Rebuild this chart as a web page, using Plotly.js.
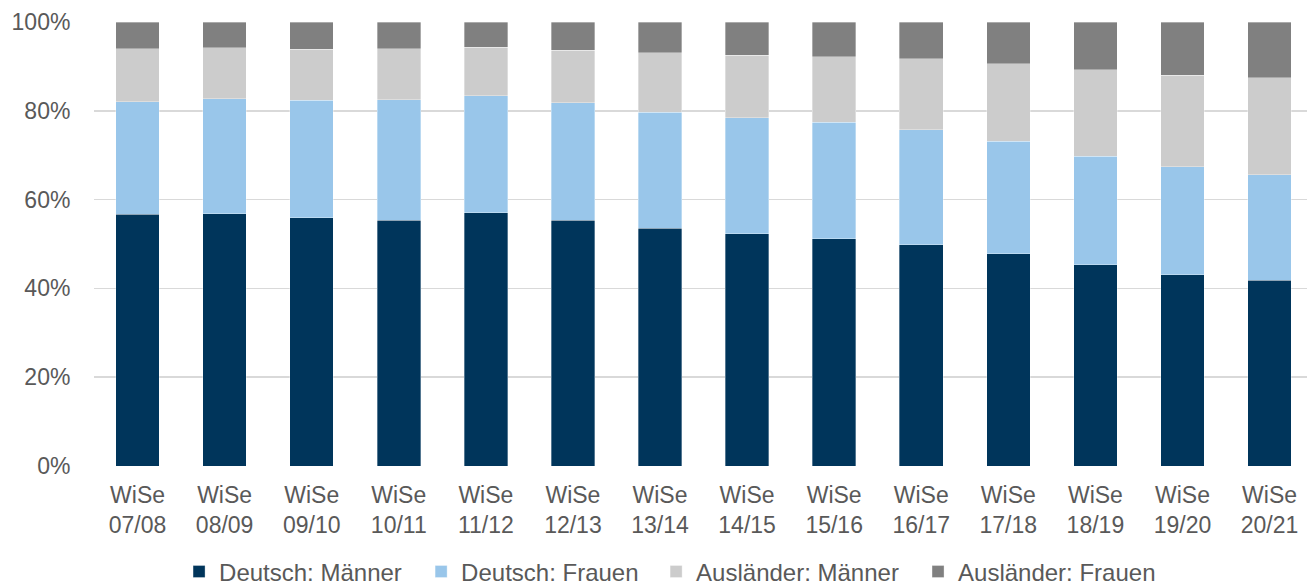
<!DOCTYPE html>
<html>
<head>
<meta charset="utf-8">
<script src="https://cdn.plot.ly/plotly-3.0.1.min.js"></script>
<style>
  html, body { margin: 0; padding: 0; background: #ffffff; }
  #chart { width: 1307px; height: 586px; }
</style>
</head>
<body>
<div id="chart"></div>
<script>
// Winter semesters
var semesters = ['WiSe<br>07/08', 'WiSe<br>08/09', 'WiSe<br>09/10', 'WiSe<br>10/11', 'WiSe<br>11/12',
                 'WiSe<br>12/13', 'WiSe<br>13/14', 'WiSe<br>14/15', 'WiSe<br>15/16', 'WiSe<br>16/17',
                 'WiSe<br>17/18', 'WiSe<br>18/19', 'WiSe<br>19/20', 'WiSe<br>20/21'];

// Shares of students in percent
var deutschMaenner    = [56.7, 56.8, 55.9, 55.4, 57.0, 55.3, 53.6, 52.3, 51.2, 49.8, 47.8, 45.3, 43.1, 41.8];
var deutschFrauen     = [25.3, 25.9, 26.5, 27.1, 26.4, 26.5, 26.1, 26.1, 26.2, 25.9, 25.3, 24.5, 24.3, 23.8];
var auslaenderMaenner = [12.0, 11.5, 11.5, 11.5, 10.9, 11.8, 13.4, 14.1, 14.8, 16.0, 17.5, 19.5, 20.6, 21.8];
var auslaenderFrauen  = [6.0, 5.8, 6.1, 6.0, 5.7, 6.4, 6.9, 7.5, 7.8, 8.3, 9.4, 10.7, 12.0, 12.6];

var yTickVals = [0, 20, 40, 60, 80, 100];
var yTickText = ['0%', '20%', '40%', '60%', '80%', '100%'];

var seriesNames  = ['Deutsch: Männer', 'Deutsch: Frauen', 'Ausländer: Männer', 'Ausländer: Frauen'];
var seriesValues = [deutschMaenner, deutschFrauen, auslaenderMaenner, auslaenderFrauen];
var seriesColors = ['#00355b', '#99c6ea', '#cccccc', '#808080'];

// one legend per series so each entry can sit at its own spot in the row
var legendIds = ['legend', 'legend2', 'legend3', 'legend4'];
var legendX   = [0.1370, 0.3222, 0.5020, 0.7024];

var traces = seriesValues.map(function (vals, i) {
  return {
    type: 'bar',
    name: seriesNames[i],
    legend: legendIds[i],
    x: semesters,
    y: vals,
    marker: { color: seriesColors[i], line: { color: 'rgba(255,255,255,0.55)', width: 0.6 } },
    hovertemplate: '%{y:.1f}%<extra>' + seriesNames[i] + '</extra>'
  };
});

var textColor = '#595959';
var fontFamily = '"Liberation Sans", Arial, Helvetica, sans-serif';

var layout = {
  width: 1307,
  height: 586,
  barmode: 'stack',
  bargap: 0.5,
  paper_bgcolor: '#ffffff',
  plot_bgcolor: '#ffffff',
  margin: { l: 94, r: 0, t: 21.5, b: 119.5, pad: 0, autoexpand: false },
  font: { family: fontFamily, size: 23, color: textColor },
  xaxis: {
    type: 'category',
    range: [-0.5, 13.43],
    showgrid: false,
    zeroline: false,
    showline: false,
    ticks: 'outside',
    ticklen: 8,
    tickcolor: 'rgba(0,0,0,0)',
    tickfont: { family: fontFamily, size: 23, color: textColor },
    fixedrange: true
  },
  yaxis: {
    range: [0, 100],
    tickvals: yTickVals,
    ticktext: yTickText,
    showgrid: true,
    gridcolor: '#d9d9d9',
    gridwidth: 1.5,
    zeroline: false,
    showline: false,
    ticks: 'outside',
    ticklen: 18,
    tickcolor: 'rgba(0,0,0,0)',
    tickfont: { family: fontFamily, size: 23, color: textColor },
    fixedrange: true
  },
  showlegend: true
};

legendIds.forEach(function (id, i) {
  layout[id] = {
    orientation: 'h',
    xref: 'container',
    yref: 'container',
    x: legendX[i],
    xanchor: 'left',
    y: 0.024,
    yanchor: 'middle',
    itemwidth: 30,
    font: { family: fontFamily, size: 24, color: textColor },
    bgcolor: 'rgba(0,0,0,0)'
  };
});

Plotly.newPlot('chart', traces, layout, { displayModeBar: false, staticPlot: true });
</script>
</body>
</html>
